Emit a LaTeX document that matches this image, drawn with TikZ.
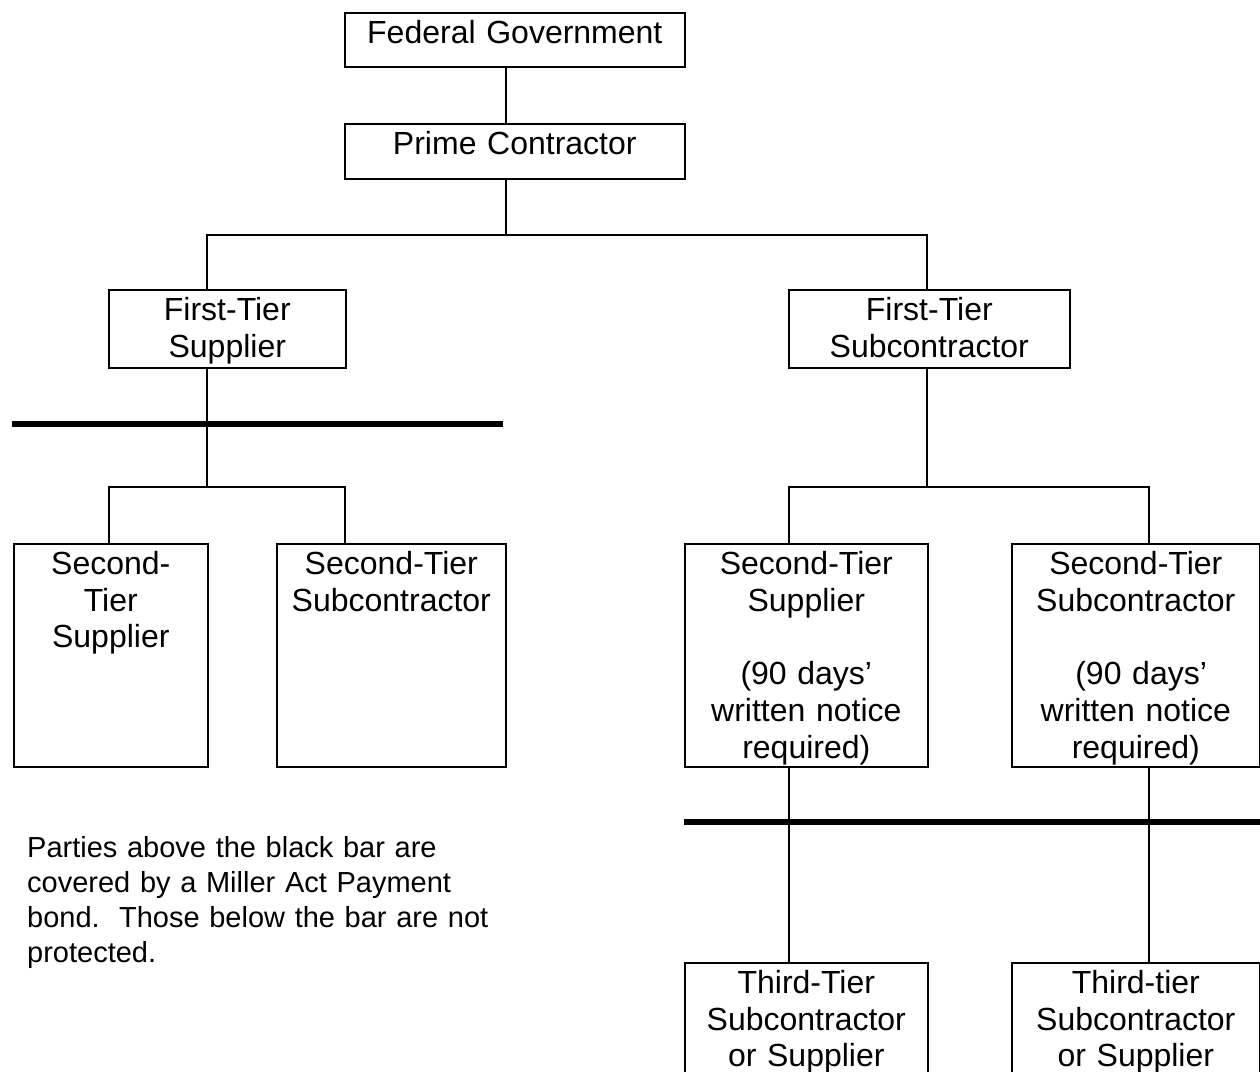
\documentclass[tikz,border=0pt]{standalone}
\usepackage{fontspec}
\setmainfont{Liberation Sans}
\begin{document}
\begin{tikzpicture}[x=1pt,y=-1pt,
  box/.style={draw, line width=1.6pt, inner sep=0pt, anchor=north west, align=center,
    font=\fontsize{32}{36.8}\selectfont, text height=30.5pt},
  conn/.style={line width=1.6pt},
  bar/.style={line width=6pt}]
\useasboundingbox (0,0) rectangle (1260,1071);
% boxes
\node[box, text width=340pt, text depth=23.5pt] (fg) at (344,12) {Federal Government};
\node[box, text width=340pt, text depth=24.5pt] (pc) at (344,123) {Prime Contractor};
\node[box, text width=237pt, text depth=47.5pt] (fts) at (108,289) {First-Tier\\Supplier};
\node[box, text width=281pt, text depth=47.5pt] (ftsub) at (788,289) {First-Tier\\Subcontractor};
\node[box, text width=194pt, text depth=192.5pt] (stsl) at (13,543) {Second-\\Tier\\Supplier};
\node[box, text width=229pt, text depth=192.5pt] (stsubl) at (276,543) {Second-Tier\\Subcontractor};
\node[box, text width=243pt, text depth=192.5pt] (stsr) at (684,543) {Second-Tier\\Supplier\\[36.8pt](90 days’\\written notice\\required)};
\node[box, text width=248pt, text depth=192.5pt] (stsubr) at (1011,543) {Second-Tier\\Subcontractor\\[36.8pt]\ (90 days’\\written notice\\required)};
\node[box, text width=243pt, text depth=99.5pt] (ttl) at (684,962) {Third-Tier\\Subcontractor\\or Supplier};
\node[box, text width=248pt, text depth=99.5pt] (ttr) at (1011,962) {Third-tier\\Subcontractor\\or Supplier};
% junction coordinates
\coordinate (t1) at (506,235);
\coordinate (tL) at (207,235);
\coordinate (tR) at (927,235);
\coordinate (mL) at (207,487);
\coordinate (mLa) at (109,487);
\coordinate (mLb) at (345,487);
\coordinate (mR) at (927,487);
\coordinate (mRa) at (789,487);
\coordinate (mRb) at (1149,487);
% connectors
\draw[conn] (fg.south -| t1) -- (pc.north -| t1);
\draw[conn] (pc.south -| t1) -- (t1);
\draw[conn] (fts.north -| tL) -- (tL) -- (tR) -- (ftsub.north -| tR);
\draw[conn] (fts.south -| mL) -- (mL);
\draw[conn] (stsl.north -| mLa) -- (mLa) -- (mLb) -- (stsubl.north -| mLb);
\draw[conn] (ftsub.south -| mR) -- (mR);
\draw[conn] (stsr.north -| mRa) -- (mRa) -- (mRb) -- (stsubr.north -| mRb);
\draw[conn] (stsr.south -| mRa) -- (ttl.north -| mRa);
\draw[conn] (stsubr.south -| mRb) -- (ttr.north -| mRb);
% black bars
\coordinate (b1a) at (12,424);
\coordinate (b1b) at (503,424);
\coordinate (b2a) at (684,822);
\coordinate (b2b) at (1260,822);
\draw[bar] (b1a) -- (b1b);
\draw[bar] (b2a) -- (b2b);
% note
\node[anchor=north west, inner sep=0pt, align=left, text width=500pt,
  font=\fontsize{29}{35}\selectfont, text height=25pt] (note) at (27,832)
  {Parties above the black bar are\\covered by a Miller Act Payment\\bond.\ \ Those below the bar are not\\protected.};
\end{tikzpicture}
\end{document}
